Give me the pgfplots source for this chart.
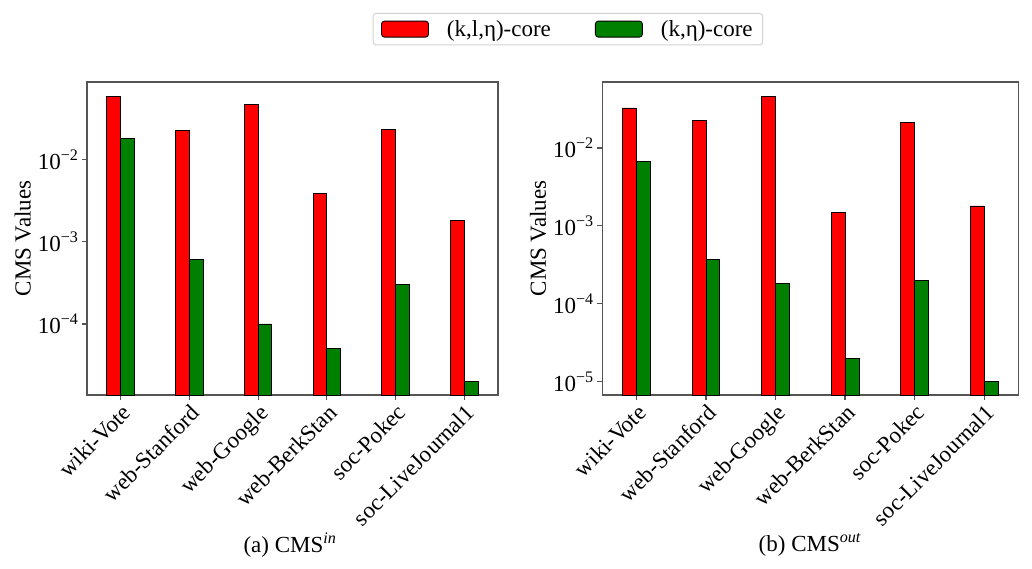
\documentclass[border=0pt]{standalone}
\usepackage{fontspec}
\setmainfont{Liberation Serif}
\usepackage{pgfplots}
\pgfplotsset{compat=1.18}
\definecolor{barred}{RGB}{255,0,0}
\definecolor{bargreen}{RGB}{0,128,0}
\definecolor{spine}{RGB}{85,85,85}
\newcommand\fs{\fontsize{23}{27}\selectfont}
\begin{document}
\begin{tikzpicture}[x=1pt,y=1pt]
\path[use as bounding box] (0pt,0pt) rectangle (1032pt,568pt);
\begin{axis}[scale only axis, anchor=south west, height=313pt,
  at={(87pt,173pt)}, width=411pt,
  ymode=log, log origin=infty, ybar, bar width=0.2,
  xmin=-0.49, xmax=5.49,
  xtick={0,...,5},
  xticklabels={wiki-Vote,web-Stanford,web-Google,web-BerkStan,soc-Pokec,soc-LiveJournal1},
  xticklabel style={font=\fs, rotate=45, anchor=north east, inner sep=2pt},
  yticklabel style={font=\fs},
  ylabel={CMS Values}, ylabel style={font=\fs},
  axis line style={spine, line width=1.2pt},
  tick style={spine, line width=1.2pt},
  major tick length=5pt, tick align=outside,
  xtick pos=left, ytick pos=left,
  yminorticks=false,
  ymin=1.371e-5, ymax=0.0871,
  ytick={1e-4,1e-3,1e-2},
  yticklabels={10\textsuperscript{−4},10\textsuperscript{−3},10\textsuperscript{−2}},
  legend style={at={(1.17,1.169)}, anchor=center, draw=gray!35, line width=1pt,
    rounded corners=3pt, font=\fs, inner xsep=8pt, inner ysep=5pt,
    /tikz/every odd column/.append style={column sep=16pt},
    /tikz/every even column/.append style={column sep=42pt}},
  legend columns=2,
  legend image code/.code={\draw[#1,/tikz/.cd,bar shift=0pt,line width=0.9pt] (0pt,-8pt) rectangle (47pt,8pt);},
]
\addplot[fill=barred, draw=black, line width=0.9pt, bar shift=-0.1] coordinates {(0,0.0588) (1,0.0223) (2,0.047) (3,0.0039) (4,0.0232) (5,0.0018)};
\addlegendentry{(k,l,η)-core}
\addplot[fill=bargreen, draw=black, line width=0.9pt, bar shift=0.1] coordinates {(0,0.018) (1,0.0006) (2,0.0001) (3,0.00005) (4,0.0003) (5,0.00002)};
\addlegendentry{(k,η)-core}
\end{axis}
\begin{axis}[scale only axis, anchor=south west, height=313pt,
  at={(602.3pt,173pt)}, width=416pt,
  ymode=log, log origin=infty, ybar, bar width=0.2,
  xmin=-0.49, xmax=5.49,
  xtick={0,...,5},
  xticklabels={wiki-Vote,web-Stanford,web-Google,web-BerkStan,soc-Pokec,soc-LiveJournal1},
  xticklabel style={font=\fs, rotate=45, anchor=north east, inner sep=2pt},
  yticklabel style={font=\fs},
  ylabel={CMS Values}, ylabel style={font=\fs},
  axis line style={spine, line width=1.2pt},
  tick style={spine, line width=1.2pt},
  major tick length=5pt, tick align=outside,
  xtick pos=left, ytick pos=left,
  yminorticks=false,
  ymin=6.76e-6, ymax=0.0702,
  ytick={1e-5,1e-4,1e-3,1e-2},
  yticklabels={10\textsuperscript{−5},10\textsuperscript{−4},10\textsuperscript{−3},10\textsuperscript{−2}},
]
\addplot[fill=barred, draw=black, line width=0.9pt, bar shift=-0.1] coordinates {(0,0.0326) (1,0.0225) (2,0.046) (3,0.0015) (4,0.0214) (5,0.0018)};
\addplot[fill=bargreen, draw=black, line width=0.9pt, bar shift=0.1] coordinates {(0,0.0068) (1,0.000366) (2,0.00018) (3,0.00002) (4,0.0002) (5,0.00001)};
\end{axis}
\node[font=\fs] at (290pt,23pt) {(a) CMS\textsuperscript{\textit{in}}};
\node[font=\fs] at (810pt,23pt) {(b) CMS\textsuperscript{\textit{out}}};
\end{tikzpicture}
\end{document}
